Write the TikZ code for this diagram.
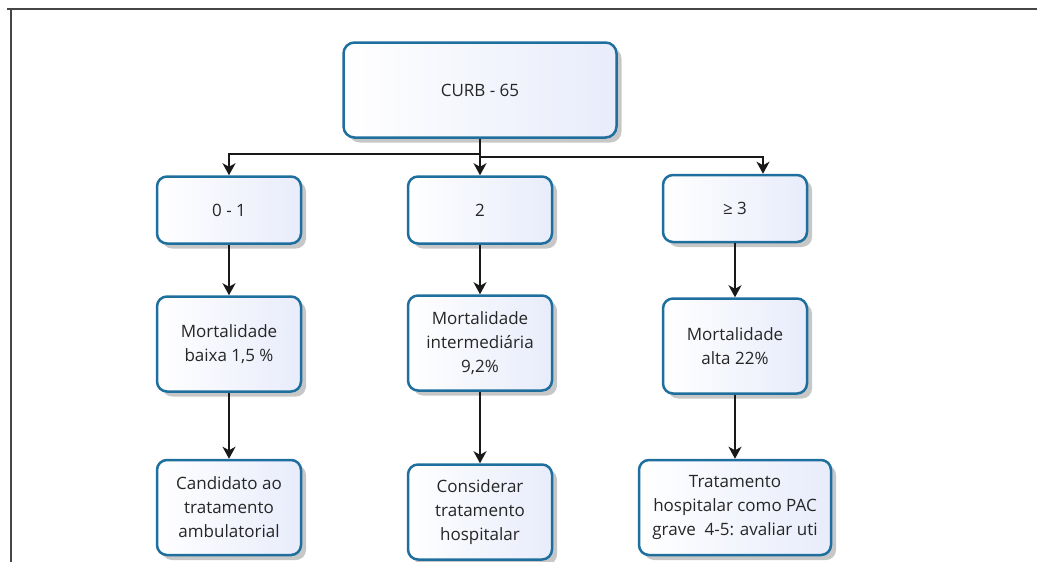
\documentclass[tikz,border=0pt]{standalone}
\usepackage{fontspec}
\setmainfont{Open Sans}
\usetikzlibrary{shapes,arrows.meta,positioning,shadows}
\definecolor{boxblue}{RGB}{31,111,158}
\definecolor{boxfill}{RGB}{232,236,251}
\definecolor{framegray}{RGB}{70,70,70}

\begin{document}
\begin{tikzpicture}[x=1pt, y=-1pt, node distance=120pt, font=\fontsize{17}{24}\selectfont]
% Define styles
\tikzstyle{curbbox} = [rectangle, rounded corners=11pt, minimum width=273pt, minimum height=95pt, text centered, align=center, draw=boxblue, line width=2.5pt, left color=white, right color=boxfill, text=black!85, drop shadow={shadow xshift=5pt, shadow yshift=-5pt, opacity=0.22, fill=black}]
\tikzstyle{scorebox} = [curbbox, rounded corners=10pt, minimum width=144pt, minimum height=67pt]
\tikzstyle{ratebox} = [curbbox, rounded corners=10pt, minimum width=144pt, minimum height=95pt]
\tikzstyle{arrow} = [line width=1.5pt, black!90, -{Stealth[length=12pt, width=13pt, inset=3.5pt]}]

\useasboundingbox (0,0) rectangle (1037,562);

% Frame
\draw [framegray, line width=1.5pt] (7,9) -- (1037,9);
\draw [framegray, line width=1.5pt] (11,9) -- (11,562);

% Draw nodes
\node (curb) [curbbox] at (480,90) {CURB - 65};
\node (mid) [scorebox, below of=curb] {2};
\node (low) [scorebox, left of=mid, node distance=251pt] {0 - 1};
\node (high) [scorebox, right of=mid, node distance=255pt, yshift=1.5pt] {≥ 3};

\node (mortlow) [ratebox, below of=low, node distance=134pt] {Mortalidade\\baixa 1,5 \%};
\node (mortmid) [ratebox, below of=mid, node distance=133pt] {Mortalidade\\intermediária\\9,2\%};
\node (morthigh) [ratebox, below of=high, node distance=137.5pt] {Mortalidade\\alta 22\%};

\node (outlow) [ratebox, below of=mortlow, node distance=163.5pt] {Candidato ao\\tratamento\\ambulatorial};
\node (outmid) [ratebox, below of=mortmid, node distance=169pt] {Considerar\\tratamento\\hospitalar};
\node (outhigh) [ratebox, below of=morthigh, node distance=161.5pt, minimum width=192pt] {Tratamento\\hospitalar como PAC\\grave\ \ 4-5: avaliar uti};

\coordinate (hightop) at ([xshift=28pt]high.north);

% Draw arrows
\draw [arrow] (curb.south) -- ++(0,15) -| (low.north);
\draw [arrow] (curb) -- (mid);
\draw [arrow] (curb.south) -- ++(0,18) -| (hightop);
\draw [arrow] (low) -- (mortlow);
\draw [arrow] (mid) -- (mortmid);
\draw [arrow] (high) -- (morthigh);
\draw [arrow] (mortlow) -- (outlow);
\draw [arrow] (mortmid) -- (outmid);
\draw [arrow] (morthigh) -- (outhigh);
\end{tikzpicture}
\end{document}
